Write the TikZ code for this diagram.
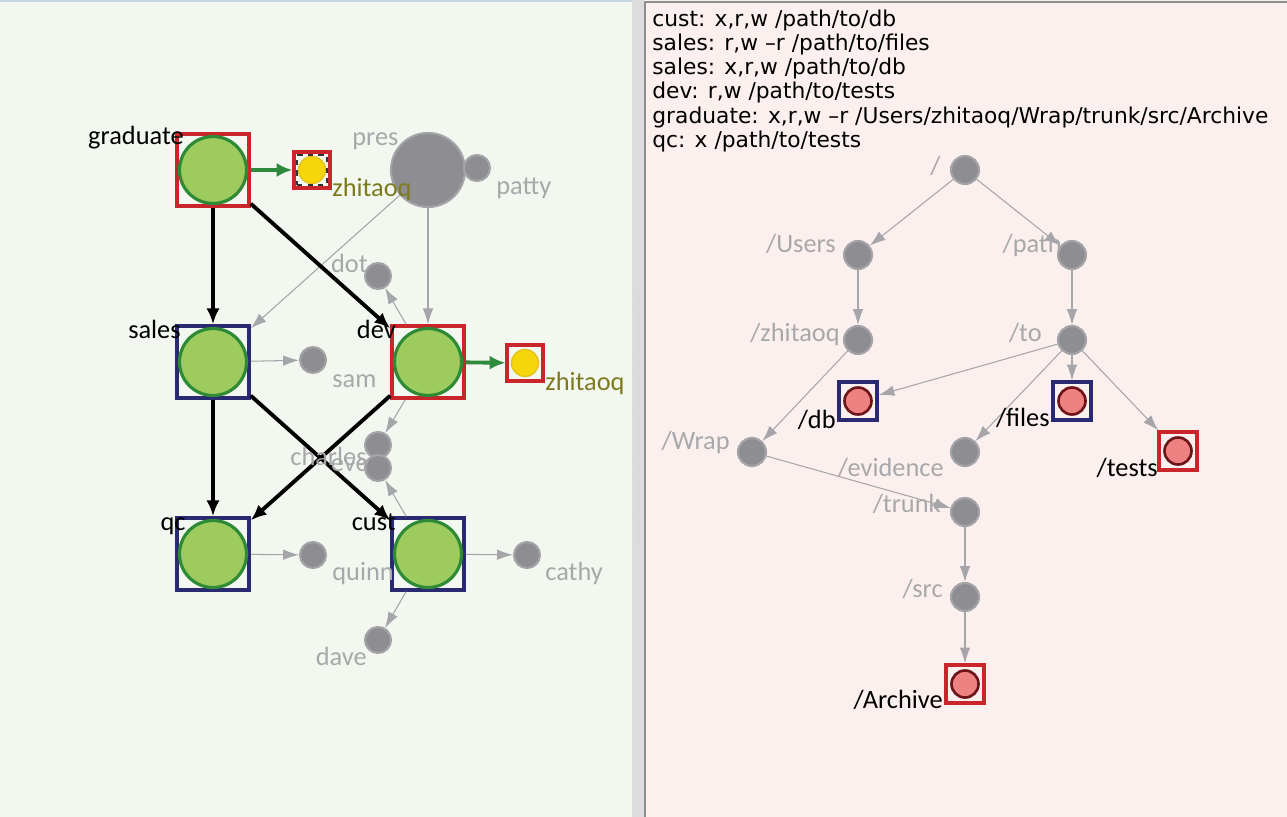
\documentclass[tikz,border=0pt]{standalone}
\usepackage{fontspec}
\setmainfont{Carlito}
\newfontfamily\lucida{DejaVu Sans}
\usetikzlibrary{arrows.meta}
\definecolor{leftbg}{HTML}{F2F7EF}
\definecolor{rightbg}{HTML}{FCF0EF}
\definecolor{splitbg}{HTML}{DCDCDC}
\definecolor{panelline}{HTML}{8E8E8E}
\definecolor{topblue}{HTML}{C6D6E6}
\definecolor{rolefill}{HTML}{9DCB5E}
\definecolor{roleline}{HTML}{2F8A35}
\definecolor{boxred}{HTML}{C9252B}
\definecolor{boxnavy}{HTML}{2A2A72}
\definecolor{nodegrey}{HTML}{8D8D92}
\definecolor{nodeline}{HTML}{A4A4A8}
\definecolor{txtgrey}{HTML}{A8A8AB}
\definecolor{olive}{HTML}{7D7A1E}
\definecolor{userfill}{HTML}{F5D60A}
\definecolor{userline}{HTML}{E6C21C}
\definecolor{filefill}{HTML}{EE8282}
\definecolor{fileline}{HTML}{6E1418}
\definecolor{edgegrey}{HTML}{A6A6AA}
\definecolor{owngreen}{HTML}{2E8B3E}
\begin{document}
\begin{tikzpicture}[x=0.02cm,y=-0.02cm,
    role/.style={circle,draw=roleline,fill=rolefill,line width=1.8pt,minimum size=1.34cm,inner sep=0pt},
    rolebox/.style={rectangle,draw=#1,line width=2pt,minimum size=1.44cm,inner sep=0pt},
    userbox/.style={rectangle,draw=boxred,line width=1.8pt,minimum size=0.72cm,inner sep=0pt},
    user/.style={circle,draw=userline,fill=userfill,line width=0.8pt,minimum size=0.54cm,inner sep=0pt},
    selbox/.style={rectangle,draw=black!80,dashed,line width=0.6pt,minimum size=0.6cm,inner sep=0pt},
    member/.style={circle,draw=nodeline,fill=nodegrey,line width=1.2pt,minimum size=#1,inner sep=0pt},
    member/.default=0.52cm,
    filebox/.style={rectangle,draw=#1,line width=1.8pt,minimum size=0.76cm,inner sep=0pt},
    file/.style={circle,draw=fileline,fill=filefill,line width=1.5pt,minimum size=0.54cm,inner sep=0pt},
    lbl/.style={font=\fontsize{15}{18}\selectfont,inner sep=0pt,text=#1},
    lbl/.default=black,
    rule/.style={font=\lucida\fontsize{12.4}{14.5}\selectfont,inner sep=0pt,anchor=base west},
    roleedge/.style={draw=black,line width=2.2pt,-{Latex[length=9pt,width=7.5pt]}},
    ownedge/.style={draw=owngreen,line width=2.2pt,-{Latex[length=9pt,width=8pt]}},
    thinedge/.style={draw=edgegrey,line width=0.6pt,-{Latex[length=9pt,width=6pt]}}]
    \useasboundingbox (0,0) rectangle (1287,817);
    % panels
    \fill[leftbg] (0,0) rectangle (632,817);
    \fill[splitbg] (632,0) rectangle (644,817);
    \fill[rightbg] (644,0) rectangle (1287,817);
    \draw[topblue,line width=1pt] (0,1) -- (632,1);
    \draw[panelline,line width=1.2pt] (645,817) -- (645,2) -- (1287,2);
    \draw[white!70!gray,dash pattern=on 0.8pt off 0.8pt,line width=2.5pt] (638,292) -- (638,545);
    % role graph
    \node[rolebox=boxred] (graduate) at (213,170) {};
    \node[role] (graduate-c) at (graduate) {};
    \node[rolebox=boxnavy] (sales) at (213,362) {};
    \node[role] (sales-c) at (sales) {};
    \node[rolebox=boxred] (dev) at (428,362) {};
    \node[role] (dev-c) at (dev) {};
    \node[rolebox=boxnavy] (qc) at (213,554) {};
    \node[role] (qc-c) at (qc) {};
    \node[rolebox=boxnavy] (cust) at (428,554) {};
    \node[role] (cust-c) at (cust) {};
    \node[userbox] (zhitA) at (312,170) {};
    \node[user] (zhitA-c) at (zhitA) {};
    \node[selbox] (zhitA-s) at (zhitA) {};
    \node[userbox] (zhitB) at (525,363) {};
    \node[user] (zhitB-c) at (zhitB) {};
    \node[member=1.48cm] (pres) at (428,170) {};
    \node[member] (patty) at (477,168) {};
    \node[member] (dot) at (378,276) {};
    \node[member] (sam) at (313,360) {};
    \node[member] (charles) at (378,445) {};
    \node[member] (eve) at (378,468) {};
    \node[member] (quinn) at (313,555) {};
    \node[member] (cathy) at (527,555) {};
    \node[member] (dave) at (378,640) {};
    \draw[thinedge] (pres) -- (sales);
    \draw[thinedge] (pres) -- (dev);
    \draw[thinedge] (sales) -- (sam);
    \draw[thinedge] (dev) -- (dot);
    \draw[thinedge] (dev) -- (charles);
    \draw[thinedge] (cust) -- (eve);
    \draw[thinedge] (qc) -- (quinn);
    \draw[thinedge] (cust) -- (cathy);
    \draw[thinedge] (cust) -- (dave);
    \draw[roleedge] (graduate) -- (sales);
    \draw[roleedge] (graduate) -- (dev);
    \draw[roleedge] (sales) -- (qc);
    \draw[roleedge] (sales) -- (cust);
    \draw[roleedge] (dev) -- (qc);
    \draw[ownedge] (graduate) -- (zhitA);
    \draw[ownedge] (dev) -- (zhitB);
    \node[lbl,anchor=base east] (graduate-t) at (184,145) {graduate};
    \node[lbl,anchor=base east] (sales-t) at (181,338) {sales};
    \node[lbl,anchor=base east] (dev-t) at (396,338) {dev};
    \node[lbl,anchor=base east] (qc-t) at (186,530) {qc};
    \node[lbl,anchor=base east] (cust-t) at (396,530) {cust};
    \node[lbl=olive,anchor=base west] (zhitA-t) at (332,197) {zhitaoq};
    \node[lbl=olive,anchor=base west] (zhitB-t) at (545,390) {zhitaoq};
    \node[lbl=txtgrey,anchor=base west] (pres-t) at (352,146) {pres};
    \node[lbl=txtgrey,anchor=base west] (patty-t) at (496,195) {patty};
    \node[lbl=txtgrey,anchor=base east] (dot-t) at (368,273) {dot};
    \node[lbl=txtgrey,anchor=base west] (sam-t) at (332,387) {sam};
    \node[lbl=txtgrey,anchor=base east] (charles-t) at (367,465) {charles};
    \node[lbl=txtgrey,anchor=base east] (eve-t) at (369,471) {eve};
    \node[lbl=txtgrey,anchor=base west] (quinn-t) at (332,580) {quinn};
    \node[lbl=txtgrey,anchor=base west] (cathy-t) at (545,580) {cathy};
    \node[lbl=txtgrey,anchor=base east] (dave-t) at (367,665) {dave};
    % permission rules
    \node[rule] (rule1) at (652,27) {cust: x,r,w /path/to/db};
    \node[rule] (rule2) at (652,51) {sales: r,w –r /path/to/files};
    \node[rule] (rule3) at (652,75) {sales: x,r,w /path/to/db};
    \node[rule] (rule4) at (652,99) {dev: r,w /path/to/tests};
    \node[rule] (rule5) at (652,124) {graduate: x,r,w –r /Users/zhitaoq/Wrap/trunk/src/Archive};
    \node[rule] (rule6) at (652,148) {qc: x /path/to/tests};
    % file tree
    \node[member=0.56cm] (root) at (965,170) {};
    \node[member=0.56cm] (users) at (858,255) {};
    \node[member=0.56cm] (path) at (1072,255) {};
    \node[member=0.56cm] (home) at (858,340) {};
    \node[member=0.56cm] (to) at (1072,340) {};
    \node[member=0.56cm] (wrap) at (752,452) {};
    \node[member=0.56cm] (evidence) at (965,452) {};
    \node[member=0.56cm] (trunk) at (965,512) {};
    \node[member=0.56cm] (src) at (965,597) {};
    \node[filebox=boxnavy] (db) at (858,401) {};
    \node[file] (db-c) at (db) {};
    \node[filebox=boxnavy] (files) at (1072,401) {};
    \node[file] (files-c) at (files) {};
    \node[filebox=boxred] (tests) at (1178,451) {};
    \node[file] (tests-c) at (tests) {};
    \node[filebox=boxred] (archive) at (965,684) {};
    \node[file] (archive-c) at (archive) {};
    \draw[thinedge] (root) -- (users);
    \draw[thinedge] (root) -- (path);
    \draw[thinedge] (users) -- (home);
    \draw[thinedge] (path) -- (to);
    \draw[thinedge] (home) -- (wrap);
    \draw[thinedge] (to) -- (db);
    \draw[thinedge] (to) -- (files);
    \draw[thinedge] (to) -- (evidence);
    \draw[thinedge] (to) -- (tests);
    \draw[thinedge] (wrap) -- (trunk);
    \draw[thinedge] (trunk) -- (src);
    \draw[thinedge] (src) -- (archive);
    \node[lbl=txtgrey,anchor=base east] (root-t) at (941,175) {/};
    \node[lbl=txtgrey,anchor=base east] (users-t) at (836,253) {/Users};
    \node[lbl=txtgrey,anchor=base east] (path-t) at (1062,253) {/path};
    \node[lbl=txtgrey,anchor=base east] (home-t) at (840,341) {/zhitaoq};
    \node[lbl=txtgrey,anchor=base east] (to-t) at (1042,341) {/to};
    \node[lbl=txtgrey,anchor=base east] (wrap-t) at (730,449) {/Wrap};
    \node[lbl=txtgrey,anchor=base east] (evidence-t) at (944,476) {/evidence};
    \node[lbl=txtgrey,anchor=base east] (trunk-t) at (941,512) {/trunk};
    \node[lbl=txtgrey,anchor=base east] (src-t) at (943,597) {/src};
    \node[lbl,anchor=base east] (db-t) at (836,428) {/db};
    \node[lbl,anchor=base east] (files-t) at (1050,426) {/files};
    \node[lbl,anchor=base east] (tests-t) at (1158,476) {/tests};
    \node[lbl,anchor=base east] (archive-t) at (943,708) {/Archive};
\end{tikzpicture}
\end{document}
